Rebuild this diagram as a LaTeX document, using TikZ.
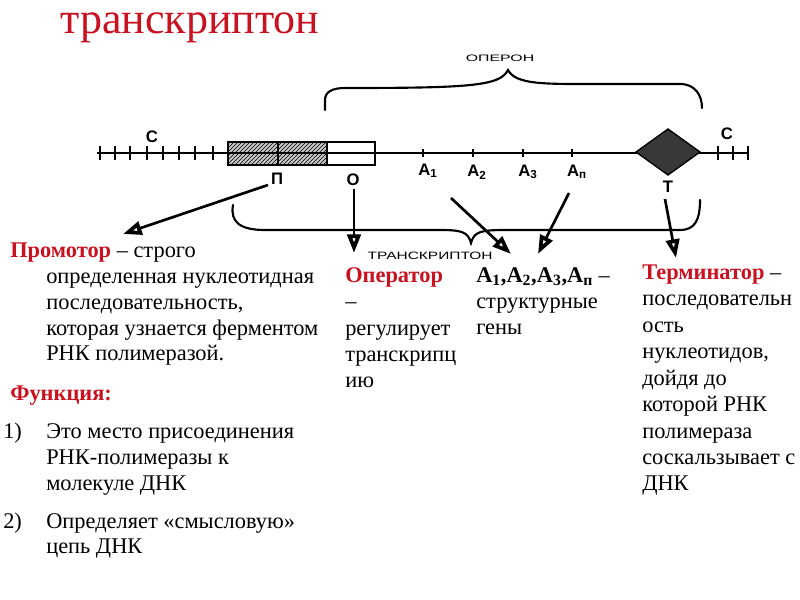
\documentclass[tikz,border=0pt]{standalone}
\usepackage{fontspec}
\setmainfont{Liberation Serif}
\newfontfamily\hand{Liberation Sans}
\usetikzlibrary{arrows.meta,patterns}
\definecolor{tred}{RGB}{200,18,32}
\begin{document}
\begin{tikzpicture}[x=0.75pt,y=-0.75pt,
  txt/.style={anchor=base west,inner sep=0,font=\fontsize{16.8}{20}\selectfont},
  hl/.style={font=\hand\bfseries\fontsize{12.5}{12.5}\selectfont,inner sep=0},
  dna/.style={line width=1.3pt},
  tick/.style={line width=1.5pt},
  brace/.style={line width=1.6pt,line cap=round},
  arr/.style={line width=2pt,-{Triangle[open,length=14pt,width=10pt,line width=2.8pt]}},
  redtxt/.style={text=tred}
]
\useasboundingbox (0,0) rectangle (800,600);
% title
\node[anchor=base west,inner sep=0,font=\fontsize{33}{36}\selectfont,text=tred] (title) at (60,33) {транскриптон};
% DNA line
\draw[dna] (97,153) -- (748,153);
\foreach \x in {100,115,130,147,163,179,195,213,718,733,748}
  \draw[tick] (\x,146) -- (\x,160);
\foreach \x in {423,473,523,572}
  \draw[tick] (\x,149) -- (\x,157);
% promoter / operator box
\fill[gray!45] (228,142) rectangle (327,165);
\fill[pattern=north east lines] (228,142) rectangle (327,165);
\draw[line width=1.7pt] (228,142) rectangle (375,165);
\draw[line width=1.7pt] (278,142) -- (278,165) (327,142) -- (327,165);
\draw[dna] (228,153) -- (375,153);
% terminator diamond
\fill[black!78,draw=black,line width=1pt] (636,152) -- (668,129) -- (700,152) -- (668,175) -- cycle;
% hand labels
\node[hl] (cl) at (152,137) {С};
\node[hl] (cr) at (727,134) {С};
\node[hl] (lp) at (277,179) {П};
\node[hl] (lo) at (353,180) {О};
\node[hl] (la1) at (428,171) {А\textsubscript{1}};
\node[hl] (la2) at (477,172) {А\textsubscript{2}};
\node[hl] (la3) at (528,172) {А\textsubscript{3}};
\node[hl] (lan) at (577,172) {А\textsubscript{п}};
\node[hl] (lt) at (668,187) {Т};
% operon brace
\draw[brace] (325,110) -- (325,100) .. controls (325,92) and (332,88) .. (345,88)
  .. controls (470,88) and (500,86) .. (508,70)
  .. controls (516,85) and (545,84) .. (600,84) -- (680,84)
  .. controls (695,84) and (702,95) .. (702,108);
\node[inner sep=0,font=\hand\fontsize{7}{7}\selectfont,xscale=1.7] (operon) at (500,58) {ОПЕРОН};
% transcripton brace
\draw[brace] (233,205) .. controls (230,222) and (240,230) .. (265,230) -- (440,230)
  .. controls (462,230) and (468,232) .. (471,243)
  .. controls (474,232) and (480,230) .. (505,230) -- (680,230)
  .. controls (695,230) and (700,220) .. (700,200);
\node[inner sep=0,font=\hand\fontsize{8}{8}\selectfont,xscale=1.45] (transcr) at (430,256) {ТРАНСКРИПТОН};
% arrows
\coordinate (pS) at (268,185); \coordinate (pE) at (123,234);
\coordinate (oS) at (354,189); \coordinate (oE) at (354,253);
\coordinate (a1S) at (451,198); \coordinate (a1E) at (511,254);
\coordinate (anS) at (569,193); \coordinate (anE) at (538,254);
\coordinate (tS) at (665,199); \coordinate (tE) at (676,258);
\draw[arr] (pS) -- (pE);
\draw[arr] (oS) -- (oE);
\draw[arr] (a1S) -- (a1E);
\draw[arr] (anS) -- (anE);
\draw[arr] (tS) -- (tE);
% promoter text
\node[txt] (prom) at (10,257) {\textcolor{tred}{\textbf{Промотор}} – строго};
\node[txt] (pr1) at (46,283) {определенная нуклеотидная};
\node[txt] (pr2) at (46,309) {последовательность,};
\node[txt] (pr3) at (46,335) {которая узнается ферментом};
\node[txt] (pr4) at (46,360) {РНК полимеразой.};
\node[txt,redtxt] (func) at (10,400) {\textbf{Функция:}};
\node[txt] (n1) at (3,438) {1)};
\node[txt] (f1a) at (46,438) {Это место присоединения};
\node[txt] (f1b) at (46,464) {РНК-полимеразы к};
\node[txt] (f1c) at (46,490) {молекуле ДНК};
\node[txt] (n2) at (3,528) {2)};
\node[txt] (f2a) at (46,528) {Определяет «смысловую»};
\node[txt] (f2b) at (46,553) {цепь ДНК};
% operator text
\node[txt,redtxt] (oper) at (345,282) {\textbf{Оператор}};
\node[txt] (op1) at (345,308) {–};
\node[txt] (op2) at (345,335) {регулирует};
\node[txt] (op3) at (345,361) {транскрипц};
\node[txt] (op4) at (345,387) {ию};
% genes text
\node[txt] (genes) at (476,282) {\textbf{А\textsubscript{1},А\textsubscript{2},А\textsubscript{3},А\textsubscript{п}} –};
\node[txt] (g1) at (476,308) {структурные};
\node[txt] (g2) at (476,334) {гены};
% terminator text
\node[txt] (term) at (642,279) {\textcolor{tred}{\textbf{Терминатор}} –};
\node[txt] (t1) at (642,305) {последовательн};
\node[txt] (t2) at (642,332) {ость};
\node[txt] (t3) at (642,358) {нуклеотидов,};
\node[txt] (t4) at (642,385) {дойдя до};
\node[txt] (t5) at (642,411) {которой РНК};
\node[txt] (t6) at (642,438) {полимераза};
\node[txt] (t7) at (642,464) {соскальзывает с};
\node[txt] (t8) at (642,490) {ДНК};
\end{tikzpicture}
\end{document}
